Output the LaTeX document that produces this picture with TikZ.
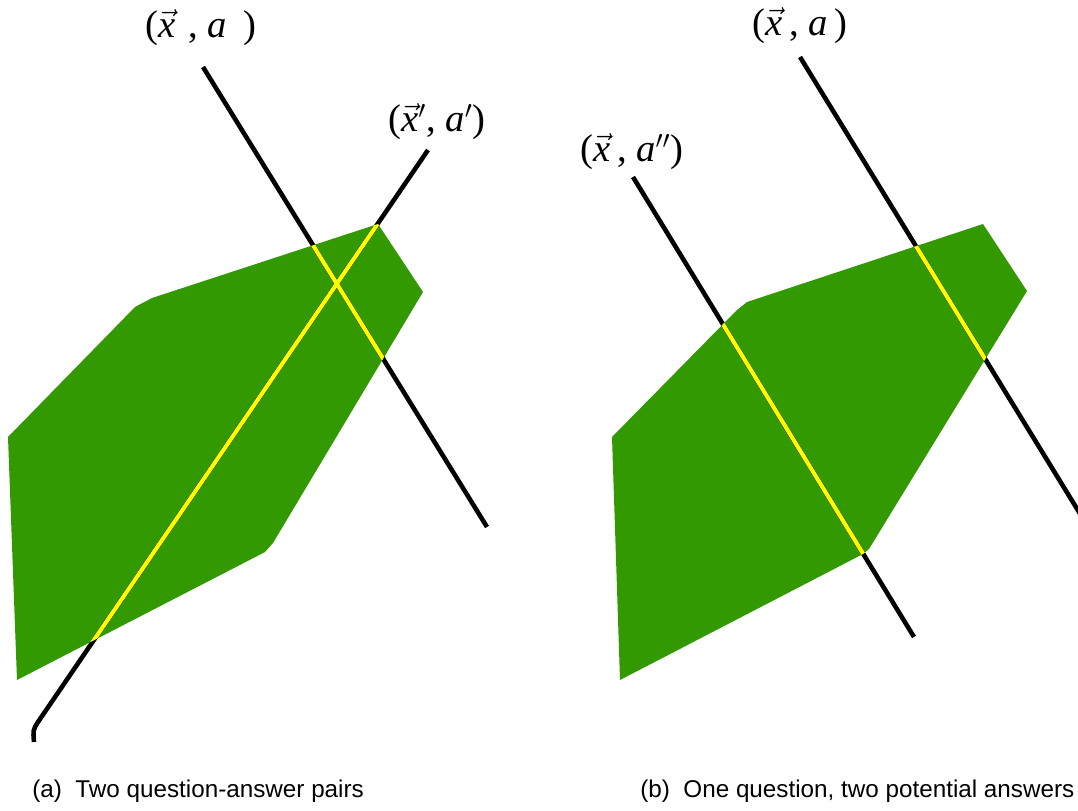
\documentclass[tikz,border=0pt]{standalone}
\usepackage{fontspec}
\setmainfont{Liberation Serif}
\newfontfamily\capfont{Liberation Sans}
\definecolor{leafgreen}{RGB}{51,153,0}
\definecolor{hityellow}{RGB}{255,255,0}
% question vector and answer letter
\newcommand{\qvec}{$\vec{\mbox{\itshape x}}$}
\newcommand{\ans}{\textit{a}}
\begin{document}
\begin{tikzpicture}[x=0.02cm,y=-0.02cm,
    qaline/.style={line width=2.6pt,black},
    hitline/.style={line width=2.4pt,hityellow},
    region/.style={fill=leafgreen},
    lbl/.style={font=\fontsize{22}{25}\selectfont,inner sep=0pt},
    captext/.style={font=\capfont\fontsize{13.8}{16}\selectfont,anchor=base west,inner sep=0pt}]
    \useasboundingbox (0,0) rectangle (1078,811);

    % ---------- (a) two question-answer pairs ----------
    \fill[region] (8,437) -- (135,307) -- (152,298) -- (378,224) -- (423,292)
        -- (273,543) -- (265,552) -- (17,680) -- cycle;
    \coordinate (qaTop)  at (203,67);
    \coordinate (qaBot)  at (487,527);
    \coordinate (qbTop)  at (428,150);
    \coordinate (qbBot)  at (38,722);
    \coordinate (qbTip)  at (34,742);
    \draw[qaline] (qaTop) -- (qaBot);
    \draw[qaline] (qbTop) -- (qbBot) .. controls (33,730) .. (qbTip);
    % part of each line inside the region
    \begin{scope}
        \clip (8,437) -- (135,307) -- (152,298) -- (378,224) -- (423,292)
            -- (273,543) -- (265,552) -- (17,680) -- cycle;
        \draw[hitline] (qaTop) -- (qaBot);
        \draw[hitline] (qbTop) -- (qbBot);
    \end{scope}
    \node[lbl] (labA)  at (201,28)  {(\qvec\,\,, \ans\ \,)};
    \node[lbl] (labAp) at (437,122) {(\qvec$'$, \ans$'$)};
    \node[captext] (capA)  at (32,797)  {(a)\ \ Two question-answer pairs};

    % ---------- (b) one question, two potential answers ----------
    \fill[region] (612,437) -- (737,310) -- (747,302) -- (983,224) -- (1027,291)
        -- (869,549) -- (863,554) -- (620,680) -- cycle;
    \coordinate (raTop) at (800,57);
    \coordinate (raBot) at (1090,530);
    \coordinate (rbTop) at (633,177);
    \coordinate (rbBot) at (914,637);
    \draw[qaline] (raTop) -- (raBot);
    \draw[qaline] (rbTop) -- (rbBot);
    \begin{scope}
        \clip (612,437) -- (737,310) -- (747,302) -- (983,224) -- (1027,291)
            -- (869,549) -- (863,554) -- (620,680) -- cycle;
        \draw[hitline] (raTop) -- (raBot);
        \draw[hitline] (rbTop) -- (rbBot);
    \end{scope}
    \node[lbl] (labB)   at (800,26)  {(\qvec\,, \ans\,)};
    \node[lbl] (labBpp) at (632,152) {(\qvec\,, \ans$''$)};
    \node[captext] (capB)   at (640,797) {(b)\ \ One question, two potential answers};
\end{tikzpicture}
\end{document}
